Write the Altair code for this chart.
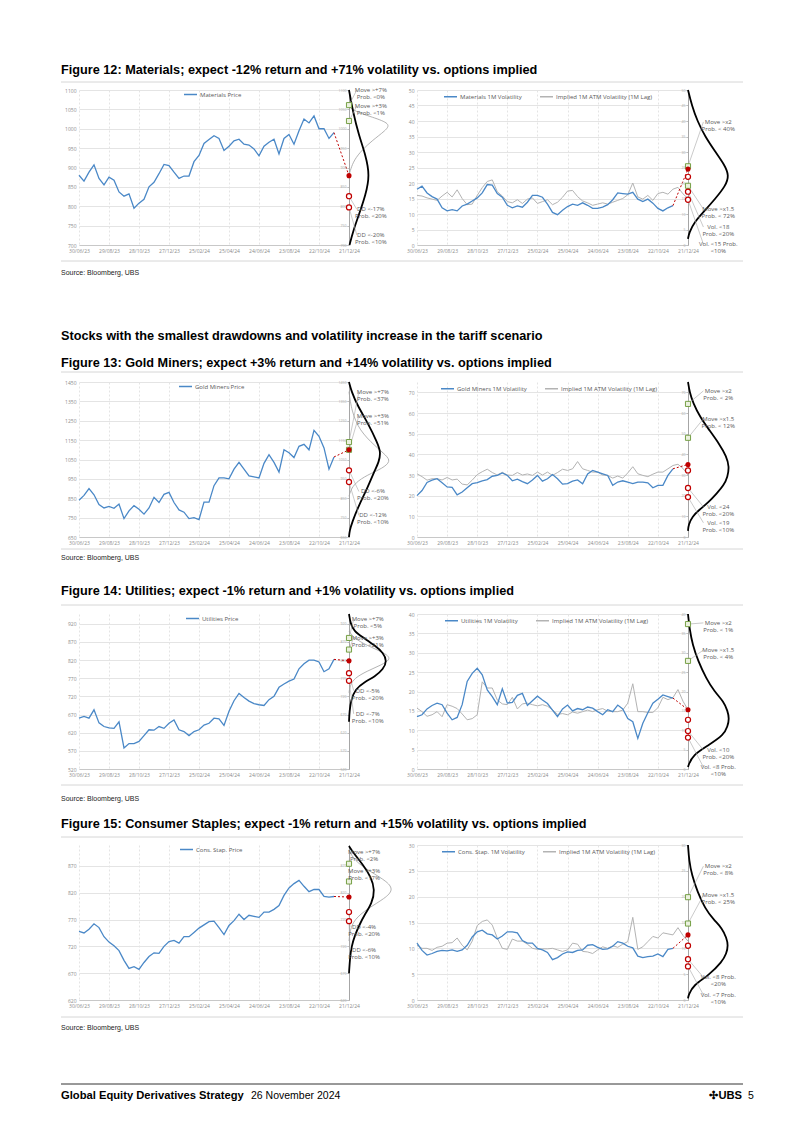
import altair as alt
import pandas as pd

FONT = "Open Sans"
TITLE_FONT = "Liberation Sans"
FOOT_FONT = "Liberation Sans"

# ---------------- text ----------------
FIG_TITLES = [
    "Figure 12: Materials; expect -12% return and +71% volatility vs. options implied",
    "Figure 13: Gold Miners; expect +3% return and +14% volatility vs. options implied",
    "Figure 14: Utilities; expect -1% return and +1% volatility vs. options implied",
    "Figure 15: Consumer Staples; expect -1% return and +15% volatility vs. options implied",
]
SECTION_HEADING = "Stocks with the smallest drawdowns and volatility increase in the tariff scenario"
SOURCE = "Source: Bloomberg, UBS"
FOOTER_LEFT = "Global Equity Derivatives Strategy"
FOOTER_DATE = "26 November 2024"
FOOTER_RIGHT = "\u2723UBS"
PAGE_NO = "5"
IMPL_NAME = "Implied 1M ATM Volatility (1M Lag)"

# ---------------- dates ----------------
X_TICK_DATES = ["2023-06-30", "2023-08-29", "2023-10-28", "2023-12-27", "2024-02-25",
                "2024-04-25", "2024-06-24", "2024-08-23", "2024-10-22", "2024-12-21"]
SERIES_START = "2023-06-30"
DATES_REAL = pd.date_range(SERIES_START, periods=52, freq="10D").strftime("%Y-%m-%d").tolist()
DATES_IMPL = pd.date_range(SERIES_START, periods=55, freq="10D").strftime("%Y-%m-%d").tolist()

# ---------------- series ----------------
MAT_PRICE = [880, 865, 888, 907, 872, 855, 875, 867, 837, 826, 832, 795, 808, 818, 850, 862, 884, 908, 905, 888,
             872, 878, 878, 915, 931, 962, 972, 982, 975, 944, 955, 969, 973, 960, 958, 948, 930, 955, 965, 973,
             935, 975, 985, 960, 995, 1025, 1015, 1033, 1000, 1000, 975, 990]
MAT_RVOL = [18, 19, 16.8, 15.6, 14.8, 12, 11, 11.4, 11, 12.6, 13.2, 14.2, 15.2, 16.8, 19.5, 19.3, 16.6, 15.4, 12.8, 12,
            12.6, 12.2, 13.8, 16, 16, 15.4, 13.2, 10.5, 9.8, 11.2, 12.4, 13.2, 12.8, 13.6, 12.8, 11.8, 11.8, 12.2, 13,
            14.6, 16.8, 16.6, 16.4, 17, 14.8, 14, 14.8, 13.5, 11.8, 11, 12, 12.7]
MAT_IVOL = [16, 15.8, 15.2, 14.8, 14.4, 15.8, 17, 15.5, 17.8, 15, 13, 13.2, 16, 18.5, 20.5, 21, 17.2, 15.8, 14, 13.6,
            14.6, 13.4, 14.8, 15.2, 13.4, 14, 14.6, 13, 13.8, 15.4, 17.4, 17.6, 15.6, 14.2, 13.6, 12.8, 13.2, 13.6,
            13.2, 13.8, 14.4, 15, 16.2, 20, 15.5, 14.8, 16, 14.4, 16.6, 17, 16.4, 18, 18.6, 16.5, 15]

GM_PRICE = [840, 865, 900, 868, 818, 800, 808, 798, 820, 745, 785, 812, 793, 768, 800, 855, 828, 870, 880, 828,
            790, 778, 745, 750, 740, 830, 830, 915, 955, 955, 950, 1000, 1035, 1000, 965, 960, 955, 1030, 1075, 1035,
            985, 1100, 1085, 1060, 1118, 1128, 1100, 1200, 1170, 1110, 1000, 1063]
GM_RVOL = [20, 22.5, 26.4, 27.5, 28.2, 26.2, 24.2, 24, 20.4, 21.8, 23.8, 25.8, 26.3, 27.2, 27.8, 29.4, 29.8, 31, 29.8,
           27.2, 28, 26.8, 25.8, 27.6, 29.8, 27, 28.2, 30.2, 28.2, 25.6, 25.8, 27, 27.6, 25.8, 30.5, 32.2, 31.4, 30.6,
           29.8, 25, 26.6, 27.2, 26.5, 25.8, 26.6, 26.6, 26.2, 23.8, 25, 25, 29.8, 33]
GM_IVOL = [30.6, 29.2, 27.5, 28.2, 28.2, 27.6, 28.8, 27.6, 28, 25.6, 25.2, 27.5, 30.2, 31.6, 32.8, 31.2, 30, 31.3, 30,
           29.8, 31.2, 30, 30.5, 29.8, 31.4, 30, 31.4, 29.8, 31.2, 32.8, 32.2, 33, 36.5, 33, 32.2, 31.4, 31.4, 30, 29.8,
           28.5, 29.5, 28.5, 31, 34, 30.6, 29.8, 29.2, 30.4, 31.4, 31.4, 33, 34.6, 35.2, 33.2, 30]

UT_PRICE = [660, 665, 660, 683, 647, 637, 633, 632, 650, 578, 590, 590, 596, 612, 628, 627, 637, 632, 646, 655,
            628, 623, 612, 623, 628, 641, 646, 660, 658, 640, 679, 708, 728, 717, 707, 700, 697, 695, 711, 720,
            745, 754, 762, 768, 796, 810, 820, 820, 815, 788, 796, 822]
UT_RVOL = [13.5, 14, 15.5, 16.4, 17, 16.6, 14.4, 12.7, 13.3, 16.6, 22.6, 24.7, 26, 24.3, 20.4, 18.7, 16.6, 20.7, 17,
           17.2, 19, 19.5, 16.4, 17.6, 18.8, 17.8, 16.9, 15.2, 13.5, 15.5, 16.5, 15, 15.6, 15.3, 16, 15.7, 14.8, 14,
           15.3, 14.8, 16.5, 15.5, 13, 12.2, 7.9, 11.8, 14.5, 17, 18, 19.1, 18.7, 18.3]
UT_IVOL = [15.7, 14.8, 13.6, 14, 14.8, 13.5, 16.6, 16.2, 15.6, 14.2, 12.7, 13, 14, 22.5, 20.9, 20.9, 17.8, 16.8, 16.6,
           18.5, 15.5, 16.8, 17, 16.6, 16.3, 16.6, 16.2, 15.3, 14.1, 14.3, 14, 14.7, 14.4, 14.8, 15.2, 14.8, 15.3, 15.6,
           14.9, 14.8, 14.8, 15.2, 17, 22, 14.8, 14.8, 14.6, 14.6, 15.8, 18.5, 17.9, 18.4, 20.5, 17.5, 15.3]

CS_PRICE = [748, 745, 752, 762, 755, 738, 728, 721, 712, 694, 679, 682, 677, 690, 701, 708, 707, 720, 729, 731,
            726, 738, 738, 746, 754, 760, 766, 767, 755, 742, 759, 768, 780, 770, 778, 776, 774, 784, 784, 789,
            796, 815, 829, 837, 843, 832, 822, 826, 826, 813, 812, 813]
CS_RVOL = [11, 9.6, 8.7, 9, 9.4, 9.6, 9.5, 9.7, 9.4, 9.7, 10.6, 12.2, 13.2, 13.5, 12.8, 12.6, 11.8, 12.4, 13.2, 13.2,
           13, 11.5, 11, 11, 10, 9.7, 9.2, 7.8, 8.2, 8.9, 9.3, 9.2, 9.6, 9.7, 10.6, 10.7, 10.2, 9.8, 9.9, 10.4, 11.3,
           11, 10.4, 10.1, 8.5, 8.2, 8.4, 8.5, 8.9, 8.4, 9.8, 10]
CS_IVOL = [10.6, 10, 10, 9.6, 10.2, 10.4, 11, 11.1, 12, 10.6, 9.7, 11.4, 14.4, 15.2, 15.5, 14.5, 12, 10, 9.8, 11.8,
           11.4, 11.4, 10.8, 10, 9.8, 9.9, 9.9, 10, 9.7, 9.4, 9.7, 11, 10.8, 9.4, 9.3, 9, 9.7, 10.3, 10, 10.5, 10.2,
           10.8, 11.3, 16, 9.8, 10.3, 11.3, 12.3, 12, 13, 12.8, 12.6, 14, 12.5, 11.4]

# ---------------- distributions (level, relative width) ----------------
MAT_PX_BLACK = [(1100, 0.0), (1043, 0.077), (983, 0.19), (932, 0.32), (880, 0.40), (829, 0.32), (778, 0.19), (735, 0.077), (700, 0.01)]
MAT_PX_GRAY = [(1060, 0.0), (1045, 0.1), (1030, 0.45), (1013, 0.81), (995, 0.7), (970, 0.45), (945, 0.25), (920, 0.1), (895, 0.03), (880, 0.0)]
GM_PX_BLACK = [(1450, 0.0), (1400, 0.05), (1330, 0.16), (1230, 0.38), (1140, 0.54), (1090, 0.61), (1040, 0.58), (985, 0.48), (900, 0.35), (813, 0.19), (727, 0.06), (680, 0.01), (650, 0.0)]
GM_PX_GRAY = [(1400, 0.0), (1300, 0.05), (1200, 0.2), (1120, 0.5), (1070, 0.72), (1040, 0.8), (1005, 0.65), (970, 0.35), (930, 0.12), (890, 0.03), (860, 0.0)]
UT_PX_BLACK = [(947, 0.0), (920, 0.03), (900, 0.1), (884, 0.25), (860, 0.5), (840, 0.66), (818, 0.73), (795, 0.66), (775, 0.5), (760, 0.3), (740, 0.12), (710, 0.04), (680, 0.01), (650, 0.0)]
UT_PX_GRAY = [(900, 0.0), (880, 0.1), (860, 0.35), (845, 0.6), (825, 0.85), (805, 0.6), (790, 0.35), (770, 0.1), (750, 0.02), (730, 0.0)]
CS_PX_BLACK = [(907, 0.0), (895, 0.08), (872, 0.27), (850, 0.42), (825, 0.5), (800, 0.44), (779, 0.3), (760, 0.2), (740, 0.11), (720, 0.05), (700, 0.02), (670, 0.0)]
CS_PX_GRAY = [(900, 0.0), (880, 0.1), (860, 0.4), (840, 0.75), (825, 0.85), (810, 0.7), (790, 0.35), (770, 0.1), (750, 0.02), (730, 0.0)]

MAT_VOL_BLACK = [(50, 0.0), (45, 0.07), (40, 0.17), (35, 0.31), (30, 0.5), (26, 0.66), (22.4, 0.75), (19, 0.68), (15, 0.5), (11, 0.3), (7.5, 0.12), (4, 0.02), (2, 0.0)]
GM_VOL_BLACK = [(75, 0.0), (70, 0.03), (65, 0.09), (58, 0.22), (52, 0.38), (45, 0.57), (39, 0.7), (34, 0.75), (29, 0.72), (25, 0.65), (21, 0.52), (17, 0.38), (13, 0.2), (10, 0.08), (6, 0.01), (3, 0.0)]
UT_VOL_BLACK = [(40, 0.0), (36, 0.03), (32, 0.085), (28, 0.18), (23.4, 0.33), (20, 0.48), (17.4, 0.65), (15, 0.72), (13, 0.75), (11, 0.72), (8.8, 0.65), (6.2, 0.38), (3.6, 0.085), (1, 0.01), (0.5, 0.0)]
CS_VOL_BLACK = [(30, 0.0), (27, 0.02), (24.2, 0.07), (21, 0.17), (17.7, 0.31), (15.5, 0.47), (13.9, 0.62), (12, 0.7), (10.6, 0.73), (9, 0.7), (7.4, 0.62), (4.8, 0.38), (2.9, 0.1), (1, 0.01), (0.3, 0.0)]

# ---------------- scenario markers ----------------
MAT_PX_UP, MAT_PX_EXP, MAT_PX_DN = [1061, 1020], 879, [826, 797]
GM_PX_UP, GM_PX_EXP, GM_PX_DN = [1140, 1100], 1100, [994, 934]
UT_PX_UP, UT_PX_EXP, UT_PX_DN = [881, 849], 818, [784, 763]
CS_PX_UP, CS_PX_EXP, CS_PX_DN = [874, 841], 812, [784, 767]
MAT_VOL_UP, MAT_VOL_EXP, MAT_VOL_DN = [25.4, 19.1], 24.5, [22, 17.2, 14.6]
GM_VOL_UP, GM_VOL_EXP, GM_VOL_DN = [64.4, 48], 35.1, [32.2, 23.7, 19.3]
UT_VOL_UP, UT_VOL_EXP, UT_VOL_DN = [37.4, 27.9], 15.3, [12.7, 9.8, 8.1]
CS_VOL_UP, CS_VOL_EXP, CS_VOL_DN = [19.9, 14.8], 12.6, [10.5, 7.9, 6.5]

MAT_PX_LABELS = [("Move >+7%\nProb. <0%", 1100), ("Move >+3%\nProb. <1%", 1059), ("DD <-17%\nProb. <20%", 792), ("DD <-20%\nProb. <10%", 726)]
MAT_VOL_LABELS = [("Move >x2\nProb. < 40%", 39.7), ("Move >x1.5\nProb. < 72%", 11.6), ("Vol. <18\nProb. <20%", 5.8), ("Vol. <15 Prob.\n<10%", 0.3)]
GM_PX_LABELS = [("Move >+7%\nProb. <37%", 1400), ("Move >+3%\nProb. <51%", 1276), ("DD <-6%\nProb. <20%", 885), ("DD <-12%\nProb. <10%", 761)]
GM_VOL_LABELS = [("Move >x2\nProb. < 2%", 70.7), ("Move >x1.5\nProb. < 12%", 57.2), ("Vol. <24\nProb. <20%", 14.6), ("Vol. <19\nProb. <10%", 6.9)]
UT_PX_LABELS = [("Move >+7%\nProb. <5%", 932), ("Move >+3%\nProb. <21%", 882), ("DD <-5%\nProb. <20%", 736), ("DD <-7%\nProb. <10%", 672)]
UT_VOL_LABELS = [("Move >x2\nProb. < 1%", 37.7), ("Move >x1.5\nProb. < 4%", 30.7), ("Vol. <10\nProb. <20%", 4.9), ("Vol. <8 Prob.\n<10%", 0.5)]
CS_PX_LABELS = [("Move >+7%\nProb. <2%", 896), ("Move >+3%\nProb. <17%", 861), ("DD <-4%\nProb. <20%", 756), ("DD <-6%\nProb. <10%", 713)]
CS_VOL_LABELS = [("Move >x2\nProb. < 8%", 25.9), ("Move >x1.5\nProb. < 25%", 20.3), ("Vol. <8 Prob.\n<20%", 4.4), ("Vol. <7 Prob.\n<10%", 1)]

# ---------------- styling ----------------
PLOT_H = 155
W_MAIN_L, W_DENS_L, W_MAIN_R, W_DENS_R = 270, 68, 271, 60
XMAX_L, XMAX_R = 68 / 52, 60 / 55
BLUE = "#4A88C7"
IMPL_GRAY = "#B3B3B3"
RED = "#C00000"
GREEN = "#76A046"
GRID = "#E4E4E4"
AXIS_LBL = "#8C8C8C"
TXT = "#595959"


def to_dt(s):
    y, m, d = map(int, s.split("-"))
    return alt.DateTime(year=y, month=m, date=d, utc=True)


X_SCALE = alt.Scale(type="utc", domain=[to_dt(X_TICK_DATES[0]), to_dt(X_TICK_DATES[-1])])
X_AXIS = alt.Axis(values=[to_dt(s) for s in X_TICK_DATES], format="%d/%m/%y", labelFontSize=5,
                  labelColor=AXIS_LBL, labelAngle=0, labelPadding=3, ticks=False, grid=True,
                  gridColor=GRID, gridDash=[2, 2], domainColor="#C8C8C8", title=None,
                  labelOverlap=False, labelFlush=False)


def main_chart(real_name, real_vals, impl_vals, lo, hi, yticks, width, exp_val, lx, ly, frame=None):
    y = alt.Y("v:Q", scale=alt.Scale(domain=[lo, hi], nice=False, zero=False),
              axis=alt.Axis(values=yticks, format="d", labelFontSize=5, labelColor=AXIS_LBL, labelPadding=3,
                            ticks=False, domain=False, grid=True, gridColor=GRID, title=None,
                            labelFlush=False))
    x = alt.X("date:T", scale=X_SCALE, axis=X_AXIS)
    names = [real_name] + ([IMPL_NAME] if impl_vals else [])
    cscale = alt.Scale(domain=names, range=[BLUE, IMPL_GRAY][:len(names)])
    legend = alt.Legend(orient="none", legendX=lx, legendY=ly, direction="horizontal", title=None,
                        symbolType="stroke", symbolSize=170, symbolStrokeWidth=1.5, labelFontSize=6,
                        labelColor=TXT, columnPadding=14, labelOffset=2, padding=0)
    layers = []
    if frame:
        one = pd.DataFrame({"k": [0]})
        for yy in (-frame[0], PLOT_H + frame[1]):
            layers.append(alt.Chart(one).mark_rule(color="#D6D6D6", strokeWidth=1).encode(
                x=alt.value(-18), x2=alt.value(664), y=alt.value(yy)))
    if impl_vals:
        di = pd.DataFrame({"date": DATES_IMPL, "v": impl_vals, "s": IMPL_NAME})
        layers.append(alt.Chart(di).mark_line(strokeWidth=1.0).encode(
            x=x, y=y, color=alt.Color("s:N", scale=cscale, legend=legend)))
    dr = pd.DataFrame({"date": DATES_REAL, "v": real_vals, "s": real_name})
    layers.append(alt.Chart(dr).mark_line(strokeWidth=1.3).encode(
        x=x, y=y, color=alt.Color("s:N", scale=cscale, legend=legend)))
    conn = pd.DataFrame({"date": [DATES_REAL[-1], X_TICK_DATES[-1]], "v": [real_vals[-1], exp_val]})
    layers.append(alt.Chart(conn).mark_line(color=RED, strokeDash=[2, 2], strokeWidth=1).encode(x=x, y=y))
    return alt.layer(*layers).properties(width=width, height=PLOT_H)


def dens_chart(lo, hi, yticks, width, xmax, black, gray, up, exp_val, dn, labels, label_x, lead_x):
    ysc = alt.Scale(domain=[lo, hi], nice=False, zero=False)
    yax = alt.Axis(values=yticks, format="d", orient="left", labelFontSize=3.5, labelColor="#AAAAAA",
                   labelPadding=1, tickSize=2, tickColor="#BFBFBF", domainColor="#A6A6A6", grid=False,
                   title=None, labelFlush=False)
    xsc = alt.Scale(domain=[0, xmax], nice=False, zero=True)

    def X(f):
        return alt.X(f"{f}:Q", scale=xsc, axis=None)

    def Y(f):
        return alt.Y(f"{f}:Q", scale=ysc, axis=yax)

    layers = []
    if gray:
        g = pd.DataFrame({"lvl": [p[0] for p in gray], "w": [p[1] for p in gray]})
        g["o"] = range(len(g))
        layers.append(alt.Chart(g).mark_line(color="#A0A0A0", strokeWidth=0.8, interpolate="basis").encode(
            x=X("w"), y=Y("lvl"), order="o:Q"))
    b = pd.DataFrame({"lvl": [p[0] for p in black], "w": [p[1] for p in black]})
    b["o"] = range(len(b))
    layers.append(alt.Chart(b).mark_line(color="black", strokeWidth=1.8, interpolate="basis").encode(
        x=X("w"), y=Y("lvl"), order="o:Q"))
    src = list(up) + list(dn[-2:])
    ld = pd.DataFrame({"w0": 0.0, "l0": src, "w1": lead_x, "l1": [lv for _, lv in labels]})
    layers.append(alt.Chart(ld).mark_rule(color="#A6A6A6", strokeWidth=0.6).encode(
        x=X("w0"), x2="w1:Q", y=Y("l0"), y2="l1:Q"))
    sq = pd.DataFrame({"w": 0.0, "lvl": up})
    layers.append(alt.Chart(sq).mark_point(shape="square", filled=True, fill="#EBF1DE", stroke=GREEN,
                                           strokeWidth=1, size=26, opacity=1).encode(x=X("w"), y=Y("lvl")))
    oc = pd.DataFrame({"w": 0.0, "lvl": dn})
    layers.append(alt.Chart(oc).mark_point(shape="circle", filled=True, fill="white", stroke=RED,
                                           strokeWidth=1.2, size=26, opacity=1).encode(x=X("w"), y=Y("lvl")))
    ex = pd.DataFrame({"w": [0.0], "lvl": [exp_val]})
    layers.append(alt.Chart(ex).mark_point(shape="circle", filled=True, color=RED, size=26, opacity=1).encode(
        x=X("w"), y=Y("lvl")))
    lb = pd.DataFrame({"w": label_x, "lvl": [lv for _, lv in labels], "t": [t for t, _ in labels]})
    layers.append(alt.Chart(lb).mark_text(fontSize=6, color=TXT, lineBreak="\n", lineHeight=7,
                                          align="center", baseline="middle").encode(
        x=X("w"), y=Y("lvl"), text="t:N"))
    return alt.layer(*layers).properties(width=width, height=PLOT_H)


def panel_row(p):
    mL = main_chart(p["pname"], p["price"], None, p["plo"], p["phi"], p["pticks"], W_MAIN_L, p["px_exp"],
                    p["plx"], -3, frame=p["frame"])
    dL = dens_chart(p["plo"], p["phi"], p["pticks"], W_DENS_L, XMAX_L, p["px_black"], p["px_gray"],
                    p["px_up"], p["px_exp"], p["px_dn"], p["px_labels"], p["px_lx"], p["px_lx"] - 0.27)
    mR = main_chart(p["vname"], p["rvol"], p["ivol"], 0, p["vhi"], p["vticks"], W_MAIN_R, p["vol_exp"],
                    p["vlx"], -1)
    dR = dens_chart(0, p["vhi"], p["vticks"], W_DENS_R, XMAX_R, p["vol_black"], None,
                    p["vol_up"], p["vol_exp"], p["vol_dn"], p["vol_labels"], 0.55, 0.28)
    return alt.hconcat(mL, dL, mR, dR, spacing=0, bounds="flush").resolve_scale(
        color="independent").resolve_legend(color="independent")


PANELS = [
    dict(pname="Materials Price", price=MAT_PRICE, plo=700, phi=1100, pticks=list(range(700, 1101, 50)),
         plx=104, frame=(8, 16), px_black=MAT_PX_BLACK, px_gray=MAT_PX_GRAY, px_up=MAT_PX_UP, px_exp=MAT_PX_EXP,
         px_dn=MAT_PX_DN, px_labels=MAT_PX_LABELS, px_lx=0.42,
         vname="Materials 1M Volatility", rvol=MAT_RVOL, ivol=MAT_IVOL, vhi=50, vticks=list(range(0, 51, 5)),
         vlx=26, vol_black=MAT_VOL_BLACK, vol_up=MAT_VOL_UP, vol_exp=MAT_VOL_EXP, vol_dn=MAT_VOL_DN,
         vol_labels=MAT_VOL_LABELS),
    dict(pname="Gold Miners Price", price=GM_PRICE, plo=650, phi=1450, pticks=list(range(650, 1451, 100)),
         plx=99, frame=(10, 12), px_black=GM_PX_BLACK, px_gray=GM_PX_GRAY, px_up=GM_PX_UP, px_exp=GM_PX_EXP,
         px_dn=GM_PX_DN, px_labels=GM_PX_LABELS, px_lx=0.46,
         vname="Gold Miners 1M Volatility", rvol=GM_RVOL, ivol=GM_IVOL, vhi=75, vticks=list(range(0, 71, 10)),
         vlx=23, vol_black=GM_VOL_BLACK, vol_up=GM_VOL_UP, vol_exp=GM_VOL_EXP, vol_dn=GM_VOL_DN,
         vol_labels=GM_VOL_LABELS),
    dict(pname="Utilities Price", price=UT_PRICE, plo=520, phi=947, pticks=list(range(520, 921, 50)),
         plx=106, frame=(9, 16), px_black=UT_PX_BLACK, px_gray=UT_PX_GRAY, px_up=UT_PX_UP, px_exp=UT_PX_EXP,
         px_dn=UT_PX_DN, px_labels=UT_PX_LABELS, px_lx=0.36,
         vname="Utilities 1M Volatility", rvol=UT_RVOL, ivol=UT_IVOL, vhi=40, vticks=list(range(0, 41, 5)),
         vlx=27, vol_black=UT_VOL_BLACK, vol_up=UT_VOL_UP, vol_exp=UT_VOL_EXP, vol_dn=UT_VOL_DN,
         vol_labels=UT_VOL_LABELS),
    dict(pname="Cons. Stap. Price", price=CS_PRICE, plo=620, phi=909, pticks=list(range(620, 871, 50)),
         plx=100, frame=(8, 17), px_black=CS_PX_BLACK, px_gray=CS_PX_GRAY, px_up=CS_PX_UP, px_exp=CS_PX_EXP,
         px_dn=CS_PX_DN, px_labels=CS_PX_LABELS, px_lx=0.29,
         vname="Cons. Stap. 1M Volatility", rvol=CS_RVOL, ivol=CS_IVOL, vhi=30, vticks=list(range(0, 31, 5)),
         vlx=24, vol_black=CS_VOL_BLACK, vol_up=CS_VOL_UP, vol_exp=CS_VOL_EXP, vol_dn=CS_VOL_DN,
         vol_labels=CS_VOL_LABELS),
]

STYLES = {
    "title": dict(fontSize=12.7, fontWeight="bold", font=TITLE_FONT, color="#000000"),
    "source": dict(fontSize=7, fontWeight="normal", font=TITLE_FONT, color="#222222"),
    "foot_b": dict(fontSize=11.2, fontWeight="bold", font=FOOT_FONT, color="#000000"),
    "foot": dict(fontSize=10.5, fontWeight="normal", font=FOOT_FONT, color="#000000"),
}
ROW_W = 664
TX = -18


def text_row(h, items, rule_y=None):
    layers = []
    if rule_y is not None:
        layers.append(alt.Chart(pd.DataFrame({"k": [0]})).mark_rule(color="#333333", strokeWidth=1).encode(
            x=alt.value(TX), x2=alt.value(ROW_W), y=alt.value(rule_y)))
    for txt, x, y, style, align in items:
        layers.append(alt.Chart(pd.DataFrame({"t": [txt]})).mark_text(
            align=align, baseline="middle", **STYLES[style]).encode(
            x=alt.value(x), y=alt.value(y), text="t:N"))
    return alt.layer(*layers).properties(width=ROW_W, height=h)


rows = [
    text_row(23, [(FIG_TITLES[0], TX, 12, "title", "left")]),
    panel_row(PANELS[0]),
    text_row(109, [(SOURCE, TX, 11, "source", "left"), (SECTION_HEADING, TX, 74, "title", "left"),
                   (FIG_TITLES[1], TX, 101, "title", "left")]),
    panel_row(PANELS[1]),
    text_row(54, [(SOURCE, TX, 8, "source", "left"), (FIG_TITLES[2], TX, 41, "title", "left")]),
    panel_row(PANELS[2]),
    text_row(50, [(SOURCE, TX, 13, "source", "left"), (FIG_TITLES[3], TX, 38, "title", "left")]),
    panel_row(PANELS[3]),
    text_row(88, [(SOURCE, TX, 10, "source", "left"), (FOOTER_LEFT, TX, 78, "foot_b", "left"),
                  (FOOTER_DATE, 172, 78, "foot", "left"), (FOOTER_RIGHT, 663, 78, "foot_b", "right"),
                  (PAGE_NO, 669, 78, "foot", "left")], rule_y=66),
]

chart = alt.vconcat(*rows, spacing=0).resolve_scale(color="independent").resolve_legend(
    color="independent").properties(
    padding={"left": 52, "top": 50, "right": 5, "bottom": 5}
).configure(font=FONT).configure_view(stroke="transparent", strokeWidth=0)

chart.save("out.html", embed_options={"renderer": "svg", "actions": False})
